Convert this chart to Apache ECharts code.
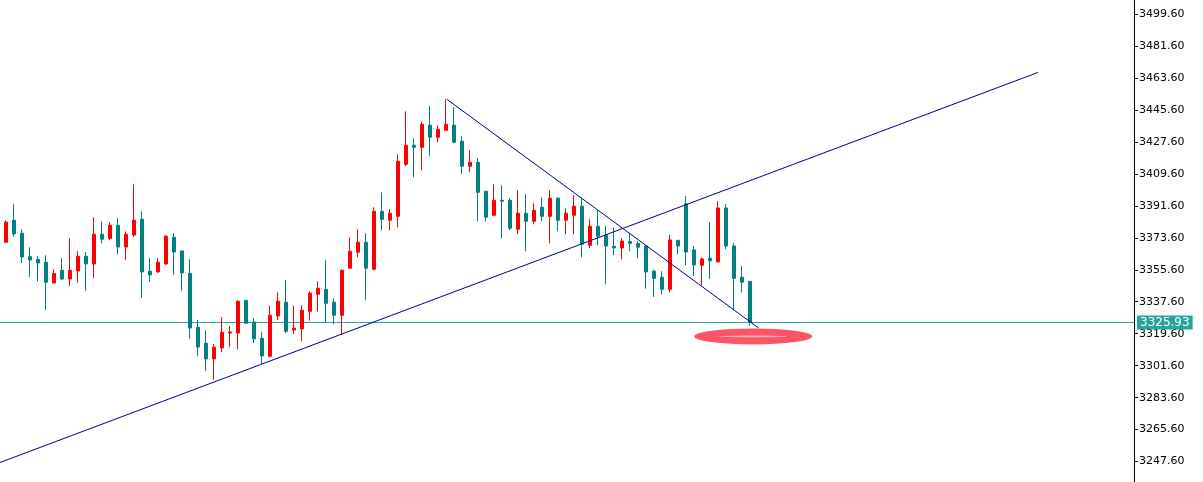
<!DOCTYPE html>
<html>
<head>
<meta charset="utf-8">
<script src="https://cdn.jsdelivr.net/npm/echarts@6/dist/echarts.min.js"></script>
<style>
html,body{margin:0;padding:0;background:#fff;}
#c{width:1203px;height:482px;}
</style>
</head>
<body>
<div id="c"></div>
<script>
// Candle index of the first (partially visible) candle
const firstIndex = -1;
const opens = [3355.5,3371.1,3383.5,3376.2,3363.0,3361.5,3359.8,3348.2,3355.3,3350.4,3354.9,3363.2,3358.9,3375.6,3373.3,3380.7,3368.4,3375.2,3384.0,3354.8,3354.4,3358.9,3373.9,3366.2,3353.6,3323.2,3314.2,3305.4,3311.6,3320.0,3320.0,3338.4,3326.2,3317.0,3306.9,3329.6,3337.3,3321.7,3322.3,3332.2,3341.8,3344.6,3337.3,3330.0,3356.5,3365.5,3371.1,3355.9,3388.5,3383.5,3385.7,3415.0,3425.7,3424.6,3437.0,3430.2,3434.1,3437.0,3428.0,3413.9,3416.1,3399.8,3386.3,3394.7,3394.7,3378.4,3387.4,3382.9,3390.8,3385.7,3395.9,3383.5,3386.3,3391.4,3369.4,3380.1,3375.0,3368.8,3367.9,3371.5,3370.5,3369.0,3354.8,3351.4,3344.6,3372.2,3392.7,3366.8,3358.1,3362.1,3360.0,3390.4,3369.0,3351.4,3349.1];
const closes = [3372.2,3382.4,3375.8,3362.8,3361.1,3359.4,3348.6,3353.5,3350.4,3355.3,3363.2,3358.9,3375.6,3372.8,3380.7,3368.4,3375.6,3383.5,3354.4,3352.7,3359.8,3374.5,3365.6,3353.8,3322.8,3312.1,3305.4,3312.0,3320.4,3320.6,3337.9,3325.5,3316.7,3307.1,3330.0,3337.9,3321.0,3322.7,3332.8,3342.4,3345.2,3336.7,3330.0,3355.3,3366.0,3371.1,3356.5,3388.5,3384.0,3387.4,3416.7,3425.7,3424.6,3437.5,3430.2,3434.7,3437.5,3427.4,3413.9,3416.1,3399.2,3385.2,3394.7,3394.2,3379.0,3387.4,3382.9,3389.1,3385.7,3395.9,3383.5,3387.4,3391.4,3370.0,3380.1,3374.5,3369.0,3367.9,3371.8,3370.5,3368.3,3354.4,3350.8,3344.6,3372.4,3369.0,3365.6,3358.3,3361.7,3360.6,3390.4,3369.0,3350.8,3348.6,3325.93];
const lows = [3354.8,3370.7,3374.1,3359.4,3351.6,3349.0,3333.0,3347.8,3349.9,3346.5,3348.2,3343.7,3351.0,3370.5,3372.2,3364.3,3361.1,3374.1,3339.7,3348.7,3353.8,3358.3,3352.7,3343.7,3316.7,3307.1,3298.6,3293.6,3309.3,3312.1,3311.0,3325.1,3314.4,3302.6,3306.3,3327.3,3320.0,3319.5,3315.4,3327.0,3332.1,3326.1,3324.9,3319.3,3356.5,3362.6,3338.4,3355.3,3377.8,3377.8,3379.5,3413.9,3407.7,3411.6,3419.5,3427.4,3434.1,3426.8,3409.4,3410.5,3382.9,3382.9,3385.7,3373.3,3377.8,3375.6,3366.0,3381.2,3382.9,3370.5,3377.3,3375.6,3375.6,3362.6,3367.7,3369.4,3347.4,3363.8,3361.5,3366.0,3362.1,3345.0,3340.3,3341.6,3342.9,3364.3,3358.1,3352.1,3346.9,3350.4,3360.0,3367.3,3333.5,3342.8,3324.0];
const highs = [3373.3,3383.3,3392.5,3378.4,3368.3,3363.2,3363.8,3355.9,3362.1,3373.3,3366.0,3365.6,3385.2,3382.9,3382.4,3384.6,3377.3,3403.7,3388.5,3362.1,3362.1,3375.2,3376.3,3366.2,3361.5,3327.3,3321.5,3313.8,3329.0,3324.0,3338.4,3338.4,3328.3,3320.4,3335.2,3342.9,3349.9,3335.2,3335.6,3343.5,3349.1,3361.0,3339.4,3355.9,3373.9,3378.4,3376.2,3390.8,3399.2,3389.7,3420.6,3444.8,3429.6,3438.7,3447.7,3437.0,3451.6,3447.1,3430.8,3422.9,3418.4,3399.8,3403.7,3403.2,3395.9,3400.4,3398.1,3393.0,3396.4,3400.4,3396.4,3390.2,3397.6,3395.9,3384.0,3389.1,3380.3,3379.5,3373.3,3376.2,3371.8,3369.4,3355.7,3354.8,3375.2,3372.4,3397.2,3369.0,3362.6,3382.5,3394.2,3392.5,3370.7,3357.7,3349.1];

// Trend lines (candle index, price)
const riseLineX = [-0.75, 129];
const riseLineY = [3247.1, 3466.7];
const fallLineX = [55.1, 94.1];
const fallLineY = [3451.6, 3322.7];

// Current price line
const lastPrice = 3325.93;

// Highlight marker
const markerX = [93.4];
const markerY = [3318.1];

// Y axis ticks
const yMin = 3247.6, yMax = 3499.6, yStep = 18;

const xMin = -0.75, xMax = 141;

const candleData = opens.map((o, i) => [i + firstIndex, o, closes[i], lows[i], highs[i]]);
const riseData = riseLineX.map((x, i) => [x, riseLineY[i]]);
const fallData = fallLineX.map((x, i) => [x, fallLineY[i]]);
const priceData = [[xMin, lastPrice], [xMax, lastPrice]];
const markerData = markerX.map((x, i) => [x, markerY[i]]);

const chart = echarts.init(document.getElementById('c'), null, {renderer: 'canvas'});
chart.setOption({
  animation: false,
  backgroundColor: '#ffffff',
  grid: {left: 0, right: 69, top: 14, bottom: 20.4, containLabel: false},
  xAxis: {type: 'value', min: xMin, max: xMax, show: false},
  yAxis: {
    type: 'value', position: 'right', min: yMin, max: yMax, interval: yStep, scale: true,
    axisLine: {show: false, onZero: false},
    axisTick: {show: true, length: 4, lineStyle: {color: '#000', width: 1}},
    splitLine: {show: false},
    axisLabel: {color: '#000', fontSize: 11, fontFamily: 'DejaVu Sans', margin: 5,
      formatter: v => v.toFixed(2)}
  },
  graphic: [{type: 'line', shape: {x1: 1134.5, y1: 0, x2: 1134.5, y2: 482},
    style: {stroke: '#000', lineWidth: 1}, z: 100}],
  series: [
    {type: 'line', data: priceData, showSymbol: false, silent: true,
      lineStyle: {color: '#26a69a', width: 1}, z: 1,
      endLabel: {show: true, distance: 3, formatter: () => lastPrice.toFixed(2),
        color: '#fff', backgroundColor: '#26a69a', fontSize: 12, fontFamily: 'DejaVu Sans',
        padding: [1, 3, 0, 3], lineHeight: 13}},
    {
      type: 'candlestick',
      data: candleData,
      barWidth: 4,
      clip: false,
      z: 2,
      itemStyle: {color: '#ff0000', color0: '#008080', borderColor: '#ff0000', borderColor0: '#008080', borderWidth: 1}
    },
    {type: 'line', data: riseData, showSymbol: false, clip: false, silent: true,
      lineStyle: {color: '#000080', width: 1}, z: 3},
    {type: 'line', data: fallData, showSymbol: false, clip: false, silent: true,
      lineStyle: {color: '#000080', width: 1}, z: 3},
    {type: 'scatter', data: markerData, symbol: 'circle', symbolSize: [118, 16], silent: true,
      itemStyle: {color: '#ff5468', opacity: 1}, z: 4},
    {type: 'scatter', data: markerData, symbol: 'circle', symbolSize: [68, 2], silent: true,
      itemStyle: {color: '#ffc0c8', opacity: 0.8}, z: 5}
  ]
});
</script>
</body>
</html>
